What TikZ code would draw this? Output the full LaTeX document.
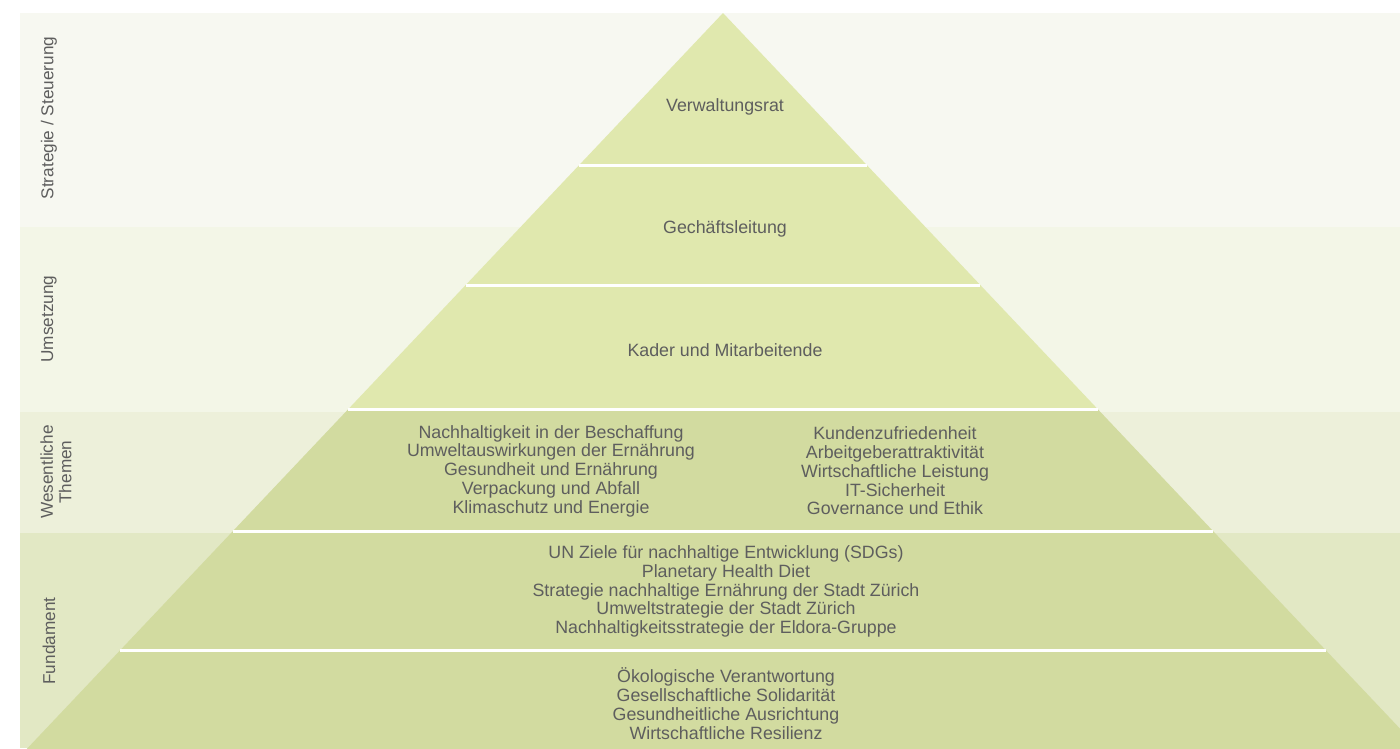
\documentclass[tikz,border=0pt]{standalone}
\usepackage{fontspec}
\setmainfont{Liberation Sans}
\definecolor{bandA}{HTML}{F7F8F1}
\definecolor{bandB}{HTML}{F3F6E7}
\definecolor{bandC}{HTML}{EDF0DA}
\definecolor{bandD}{HTML}{E2E8C4}
\definecolor{pyrtop}{HTML}{E0E8AE}
\definecolor{pyrbot}{HTML}{D2DBA0}
\definecolor{txtgray}{HTML}{5E5E5E}
\tikzset{
  tiertext/.style={align=center, text=txtgray, inner sep=0pt, font=\fontsize{17.8}{18.75}\selectfont},
  sidelabel/.style={align=center, text=txtgray, inner sep=0pt, rotate=90, font=\fontsize{17.2}{18.5}\selectfont},
  sepline/.style={draw=white, line width=3pt}
}
\begin{document}
\begin{tikzpicture}[x=1pt,y=-1pt]
\useasboundingbox (0,0) rectangle (1400,748);
\clip (0,0) rectangle (1400,748);
\fill[white] (0,0) rectangle (1400,748);
% background bands
\fill[bandA] (20,13) rectangle (1400,227);
\fill[bandB] (20,227) rectangle (1400,412);
\fill[bandC] (20,412) rectangle (1400,533);
\fill[bandD] (20,533) rectangle (1400,748);
% pyramid
\fill[pyrtop] (723,13) -- (1097.6,409) -- (348.4,409) -- cycle;
\fill[pyrbot] (348.4,409) -- (1097.6,409) -- (1479.8,813) -- (-33.8,813) -- cycle;
% separators
\draw[sepline] (579.2,165) -- (866.8,165);
\draw[sepline] (465.7,285) -- (980.3,285);
\draw[sepline] (348.4,409) -- (1097.6,409);
\draw[sepline] (233,531) -- (1213,531);
\draw[sepline] (120.4,650) -- (1325.6,650);
% side labels
\node[sidelabel] (l1) at (49,118) {Strategie / Steuerung};
\node[sidelabel] (l2) at (49,319) {Umsetzung};
\node[sidelabel] (l3) at (56,472) {Wesentliche\\Themen};
\node[sidelabel] (l4) at (49,641) {Fundament};
% tier texts
\node[tiertext] (t1) at (725,107) {Verwaltungsrat};
\node[tiertext] (t2) at (725,229) {Gechäftsleitung};
\node[tiertext] (t3) at (725,350) {Kader und Mitarbeitende};
\node[tiertext] (t4a) at (551,471) {Nachhaltigkeit in der Beschaffung\\Umweltauswirkungen der Ernährung\\Gesundheit und Ernährung\\Verpackung und Abfall\\Klimaschutz und Energie};
\node[tiertext] (t4b) at (895,471) {Kundenzufriedenheit\\Arbeitgeberattraktivität\\Wirtschaftliche Leistung\\IT-Sicherheit\\Governance und Ethik};
\node[tiertext] (t5) at (726,591.5) {UN Ziele für nachhaltige Entwicklung (SDGs)\\Planetary Health Diet\\Strategie nachhaltige Ernährung der Stadt Zürich\\Umweltstrategie der Stadt Zürich\\Nachhaltigkeitsstrategie der Eldora-Gruppe};
\node[tiertext] (t6) at (726,703.5) {Ökologische Verantwortung\\Gesellschaftliche Solidarität\\Gesundheitliche Ausrichtung\\Wirtschaftliche Resilienz};
\end{tikzpicture}
\end{document}
